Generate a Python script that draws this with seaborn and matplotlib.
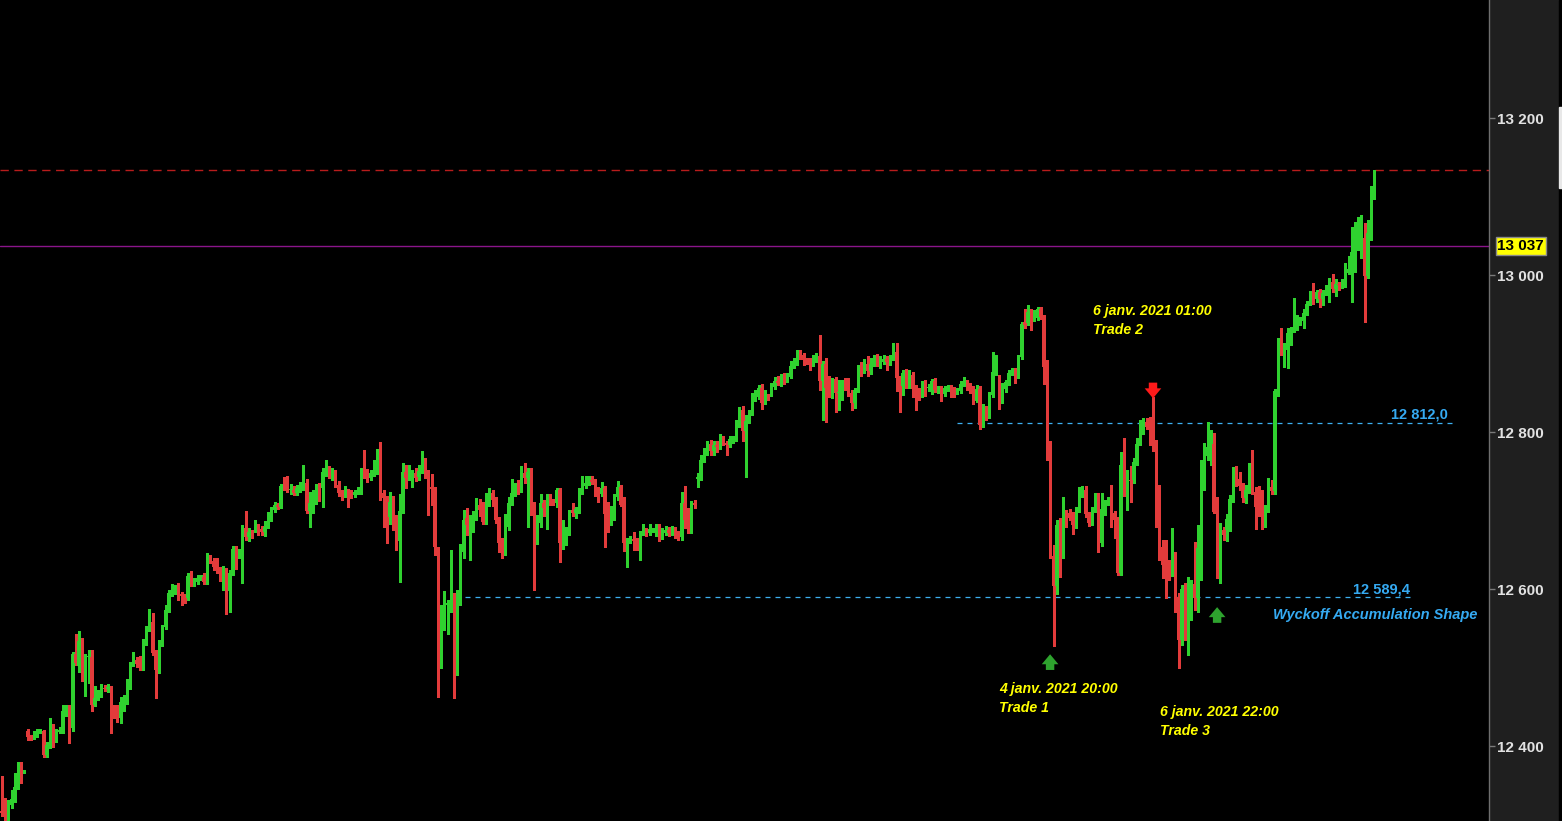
import numpy as np
import pandas as pd
import seaborn as sns
import matplotlib
matplotlib.use("Agg")
import matplotlib.pyplot as plt
from matplotlib.patches import Rectangle

# candle data (price units) left to right
opens = [
    12317, 12315, 12304, 12325, 12331, 12348, 12377, 12367, 12419, 12412,
    12412, 12417, 12419, 12419, 12389, 12400, 12427, 12410, 12418, 12419,
    12443, 12451, 12423, 12517, 12502, 12535, 12495, 12513, 12513, 12452,
    12465, 12468, 12474, 12473, 12474, 12447, 12445, 12436, 12456, 12459,
    12475, 12504, 12510, 12504, 12501, 12532, 12549, 12558, 12520, 12497,
    12531, 12552, 12573, 12595, 12596, 12603, 12594, 12591, 12589, 12618,
    12608, 12609, 12614, 12615, 12609, 12640, 12636, 12628, 12624, 12609,
    12624, 12597, 12620, 12651, 12643, 12650, 12678, 12666, 12673, 12675,
    12679, 12676, 12673, 12679, 12688, 12701, 12707, 12705, 12731, 12731,
    12726, 12726, 12722, 12729, 12730, 12735, 12699, 12710, 12724, 12730,
    12729, 12748, 12753, 12744, 12749, 12732, 12724, 12719, 12725, 12724,
    12720, 12724, 12724, 12752, 12746, 12741, 12748, 12748, 12776, 12722,
    12716, 12692, 12711, 12692, 12661, 12699, 12749, 12741, 12741, 12748,
    12743, 12750, 12762, 12749, 12730, 12727, 12651, 12502, 12567, 12580,
    12580, 12582, 12494, 12582, 12647, 12690, 12683, 12684, 12690, 12707,
    12703, 12685, 12708, 12722, 12714, 12689, 12659, 12646, 12679, 12710,
    12722, 12730, 12726, 12748, 12741, 12749, 12701, 12660, 12684, 12710,
    12703, 12717, 12713, 12710, 12726, 12659, 12666, 12671, 12701, 12697,
    12701, 12724, 12731, 12735, 12739, 12738, 12725, 12721, 12729, 12696,
    12692, 12702, 12717, 12730, 12708, 12659, 12661, 12664, 12662, 12654,
    12671, 12674, 12671, 12674, 12674, 12676, 12666, 12671, 12675, 12671,
    12676, 12670, 12666, 12710, 12688, 12684, 12710, 12740, 12743, 12764,
    12775, 12785, 12776, 12784, 12781, 12793, 12786, 12784, 12789, 12791,
    12809, 12828, 12801, 12814, 12824, 12842, 12845, 12856, 12840, 12846,
    12850, 12857, 12865, 12862, 12869, 12866, 12870, 12884, 12888, 12901,
    12898, 12894, 12893, 12888, 12892, 12897, 12865, 12887, 12867, 12851,
    12867, 12850, 12850, 12860, 12860, 12850, 12837, 12852, 12882, 12878,
    12887, 12878, 12887, 12890, 12888, 12889, 12893, 12889, 12894, 12902,
    12869, 12859, 12875, 12860, 12873, 12855, 12850, 12849, 12860, 12856,
    12857, 12865, 12854, 12855, 12849, 12855, 12857, 12855, 12851, 12852,
    12861, 12864, 12860, 12855, 12840, 12855, 12809, 12831, 12820, 12847,
    12875, 12870, 12838, 12855, 12862, 12875, 12879, 12871, 12896, 12940,
    12939, 12953, 12943, 12945, 12957, 12947, 12883, 12768, 12642, 12604,
    12682, 12671, 12698, 12697, 12694, 12682, 12701, 12721, 12726, 12696,
    12684, 12699, 12716, 12659, 12698, 12710, 12712, 12697, 12689, 12620,
    12768, 12724, 12739, 12739, 12762, 12785, 12800, 12813, 12813, 12805,
    12787, 12729, 12654, 12632, 12623, 12620, 12640, 12590, 12535, 12599,
    12557, 12590, 12606, 12589, 12652, 12752, 12769, 12781, 12785, 12698,
    12636, 12675, 12675, 12689, 12715, 12753, 12740, 12731, 12716, 12726,
    12757, 12724, 12705, 12703, 12689, 12703, 12730, 12725, 12852, 12913,
    12905, 12905, 12926, 12931, 12935, 12938, 12941, 12952, 12963, 12976,
    12969, 12978, 12969, 12977, 12984, 12991, 12982, 12989, 12987, 12990,
    13003, 13008, 13029, 13043, 13046, 13047, 12999, 13054, 13101,
]
highs = [
    12362, 12334, 12331, 12344, 12366, 12380, 12380, 12369, 12422, 12414,
    12419, 12422, 12422, 12420, 12405, 12436, 12428, 12422, 12424, 12452,
    12452, 12452, 12520, 12543, 12546, 12538, 12517, 12522, 12522, 12476,
    12471, 12479, 12478, 12479, 12476, 12452, 12452, 12462, 12465, 12485,
    12507, 12520, 12513, 12515, 12536, 12553, 12575, 12569, 12522, 12535,
    12554, 12580, 12599, 12606, 12605, 12608, 12596, 12594, 12620, 12623,
    12614, 12618, 12618, 12620, 12646, 12643, 12640, 12640, 12628, 12629,
    12627, 12624, 12655, 12655, 12651, 12682, 12699, 12678, 12675, 12688,
    12683, 12680, 12687, 12698, 12704, 12711, 12710, 12734, 12743, 12744,
    12734, 12731, 12732, 12736, 12758, 12740, 12724, 12726, 12734, 12735,
    12754, 12764, 12757, 12754, 12752, 12738, 12726, 12731, 12727, 12726,
    12726, 12730, 12754, 12777, 12753, 12752, 12765, 12778, 12787, 12726,
    12719, 12724, 12719, 12694, 12721, 12761, 12758, 12758, 12752, 12754,
    12758, 12776, 12767, 12752, 12746, 12730, 12653, 12580, 12598, 12586,
    12650, 12595, 12599, 12657, 12701, 12703, 12694, 12699, 12716, 12715,
    12711, 12722, 12729, 12726, 12717, 12692, 12665, 12696, 12717, 12740,
    12735, 12739, 12757, 12761, 12754, 12754, 12711, 12694, 12721, 12713,
    12721, 12721, 12715, 12729, 12729, 12688, 12679, 12701, 12710, 12704,
    12729, 12744, 12744, 12744, 12744, 12740, 12730, 12736, 12731, 12711,
    12706, 12721, 12738, 12732, 12717, 12665, 12668, 12673, 12665, 12674,
    12683, 12678, 12683, 12678, 12683, 12683, 12678, 12680, 12679, 12680,
    12679, 12674, 12724, 12731, 12703, 12712, 12713, 12748, 12771, 12780,
    12789, 12790, 12789, 12789, 12798, 12795, 12789, 12795, 12795, 12815,
    12832, 12833, 12822, 12828, 12850, 12854, 12860, 12861, 12854, 12849,
    12862, 12870, 12871, 12874, 12875, 12875, 12890, 12894, 12904, 12904,
    12901, 12895, 12894, 12898, 12901, 12924, 12890, 12894, 12871, 12869,
    12870, 12866, 12866, 12869, 12869, 12854, 12856, 12886, 12889, 12893,
    12897, 12895, 12898, 12899, 12897, 12898, 12897, 12898, 12913, 12913,
    12871, 12879, 12880, 12879, 12876, 12860, 12856, 12865, 12866, 12861,
    12868, 12869, 12859, 12859, 12859, 12860, 12860, 12857, 12856, 12865,
    12870, 12866, 12862, 12859, 12860, 12859, 12836, 12833, 12851, 12902,
    12898, 12873, 12862, 12866, 12879, 12882, 12882, 12898, 12940, 12957,
    12962, 12957, 12955, 12959, 12959, 12949, 12892, 12789, 12656, 12688,
    12690, 12717, 12701, 12702, 12698, 12704, 12730, 12731, 12731, 12698,
    12704, 12722, 12722, 12722, 12713, 12717, 12732, 12699, 12692, 12775,
    12793, 12752, 12757, 12767, 12793, 12815, 12818, 12818, 12819, 12845,
    12790, 12732, 12662, 12662, 12637, 12678, 12647, 12595, 12605, 12608,
    12615, 12611, 12660, 12682, 12764, 12786, 12813, 12803, 12799, 12717,
    12684, 12679, 12696, 12720, 12755, 12757, 12749, 12735, 12732, 12760,
    12777, 12730, 12731, 12726, 12707, 12741, 12739, 12855, 12920, 12932,
    12913, 12932, 12934, 12971, 12949, 12947, 12957, 12967, 12980, 12990,
    12981, 12982, 12981, 12987, 12996, 13001, 12995, 12991, 12995, 13015,
    13024, 13061, 13067, 13074, 13077, 13066, 13070, 13114, 13134,
]
lows = [
    12311, 12301, 12301, 12321, 12329, 12345, 12353, 12366, 12408, 12408,
    12409, 12412, 12417, 12386, 12386, 12397, 12399, 12405, 12417, 12417,
    12438, 12404, 12419, 12503, 12494, 12483, 12464, 12480, 12445, 12451,
    12459, 12462, 12470, 12469, 12417, 12436, 12431, 12429, 12445, 12453,
    12473, 12502, 12501, 12497, 12497, 12529, 12546, 12516, 12461, 12493,
    12527, 12549, 12571, 12591, 12594, 12586, 12580, 12582, 12586, 12604,
    12604, 12606, 12611, 12606, 12606, 12633, 12624, 12620, 12610, 12599,
    12568, 12571, 12618, 12625, 12640, 12608, 12662, 12661, 12665, 12673,
    12669, 12669, 12668, 12678, 12687, 12698, 12702, 12703, 12726, 12724,
    12721, 12720, 12720, 12724, 12726, 12697, 12679, 12697, 12708, 12712,
    12705, 12744, 12741, 12739, 12730, 12719, 12713, 12717, 12705, 12716,
    12717, 12721, 12721, 12741, 12736, 12739, 12744, 12746, 12713, 12679,
    12659, 12683, 12675, 12650, 12609, 12697, 12729, 12739, 12730, 12738,
    12739, 12748, 12741, 12694, 12707, 12643, 12462, 12499, 12548, 12543,
    12571, 12461, 12491, 12580, 12640, 12669, 12637, 12673, 12688, 12693,
    12683, 12683, 12706, 12706, 12684, 12647, 12640, 12643, 12675, 12707,
    12719, 12721, 12724, 12735, 12679, 12695, 12599, 12657, 12679, 12693,
    12677, 12707, 12707, 12705, 12634, 12651, 12656, 12669, 12693, 12691,
    12697, 12721, 12729, 12732, 12734, 12719, 12711, 12719, 12654, 12673,
    12682, 12688, 12713, 12706, 12648, 12628, 12659, 12650, 12650, 12637,
    12669, 12668, 12669, 12673, 12668, 12661, 12664, 12669, 12668, 12669,
    12665, 12662, 12662, 12678, 12671, 12671, 12703, 12730, 12739, 12762,
    12771, 12771, 12771, 12775, 12778, 12783, 12771, 12781, 12786, 12789,
    12807, 12789, 12743, 12811, 12822, 12840, 12842, 12829, 12836, 12841,
    12846, 12855, 12860, 12859, 12861, 12864, 12869, 12882, 12886, 12893,
    12886, 12887, 12879, 12884, 12889, 12853, 12815, 12813, 12845, 12844,
    12825, 12828, 12841, 12853, 12846, 12828, 12831, 12851, 12871, 12875,
    12871, 12874, 12884, 12884, 12882, 12887, 12879, 12886, 12892, 12852,
    12825, 12847, 12856, 12856, 12845, 12828, 12841, 12845, 12846, 12852,
    12849, 12851, 12850, 12840, 12846, 12852, 12845, 12845, 12849, 12850,
    12859, 12853, 12850, 12836, 12838, 12804, 12807, 12815, 12818, 12845,
    12873, 12829, 12837, 12851, 12860, 12873, 12862, 12869, 12893, 12933,
    12936, 12930, 12941, 12943, 12944, 12861, 12764, 12640, 12527, 12594,
    12615, 12640, 12679, 12688, 12670, 12678, 12698, 12717, 12692, 12680,
    12682, 12698, 12647, 12655, 12694, 12707, 12679, 12665, 12618, 12618,
    12719, 12701, 12711, 12735, 12758, 12783, 12798, 12804, 12784, 12776,
    12679, 12637, 12614, 12589, 12611, 12617, 12571, 12499, 12529, 12535,
    12516, 12561, 12573, 12571, 12611, 12726, 12764, 12758, 12697, 12614,
    12608, 12662, 12661, 12674, 12711, 12731, 12726, 12711, 12710, 12722,
    12721, 12677, 12693, 12677, 12679, 12698, 12721, 12721, 12846, 12898,
    12883, 12882, 12911, 12927, 12930, 12936, 12933, 12949, 12962, 12963,
    12966, 12959, 12962, 12975, 12966, 12978, 12973, 12981, 12984, 12985,
    13001, 12966, 13004, 13032, 13022, 12940, 12996, 13045, 13097,
]
closes = [
    12315, 12304, 12325, 12333, 12348, 12376, 12366, 12368, 12412, 12410,
    12417, 12419, 12420, 12389, 12401, 12427, 12410, 12418, 12420, 12445,
    12450, 12423, 12517, 12506, 12534, 12495, 12513, 12515, 12452, 12461,
    12468, 12474, 12473, 12475, 12447, 12445, 12436, 12456, 12459, 12476,
    12504, 12510, 12504, 12501, 12534, 12550, 12557, 12518, 12497, 12531,
    12552, 12573, 12595, 12596, 12601, 12592, 12591, 12589, 12617, 12608,
    12609, 12614, 12615, 12609, 12640, 12636, 12628, 12624, 12614, 12624,
    12597, 12620, 12651, 12642, 12645, 12679, 12666, 12673, 12669, 12679,
    12675, 12673, 12679, 12688, 12701, 12707, 12705, 12731, 12729, 12726,
    12727, 12722, 12729, 12730, 12735, 12699, 12710, 12724, 12730, 12727,
    12749, 12752, 12747, 12749, 12732, 12722, 12719, 12725, 12722, 12720,
    12724, 12725, 12752, 12746, 12743, 12748, 12749, 12776, 12722, 12716,
    12692, 12711, 12692, 12661, 12699, 12749, 12741, 12743, 12748, 12741,
    12750, 12762, 12749, 12730, 12727, 12653, 12502, 12565, 12580, 12582,
    12584, 12494, 12582, 12647, 12688, 12682, 12684, 12690, 12707, 12701,
    12685, 12708, 12722, 12713, 12688, 12659, 12646, 12679, 12710, 12722,
    12730, 12726, 12748, 12741, 12749, 12699, 12660, 12684, 12710, 12703,
    12717, 12711, 12710, 12726, 12659, 12666, 12673, 12698, 12697, 12702,
    12724, 12732, 12735, 12740, 12736, 12724, 12721, 12729, 12696, 12692,
    12702, 12717, 12730, 12707, 12659, 12661, 12664, 12661, 12655, 12671,
    12674, 12673, 12676, 12676, 12678, 12666, 12671, 12675, 12671, 12676,
    12670, 12666, 12710, 12688, 12684, 12710, 12707, 12743, 12764, 12775,
    12785, 12776, 12783, 12781, 12793, 12786, 12784, 12791, 12793, 12809,
    12828, 12801, 12814, 12824, 12842, 12845, 12856, 12837, 12849, 12844,
    12859, 12865, 12862, 12870, 12866, 12871, 12884, 12889, 12901, 12897,
    12892, 12890, 12888, 12894, 12897, 12865, 12887, 12856, 12851, 12866,
    12850, 12851, 12862, 12857, 12850, 12837, 12854, 12882, 12878, 12887,
    12878, 12887, 12890, 12888, 12892, 12893, 12889, 12894, 12902, 12869,
    12859, 12875, 12860, 12874, 12855, 12850, 12849, 12860, 12855, 12857,
    12865, 12854, 12855, 12849, 12856, 12856, 12852, 12851, 12852, 12861,
    12865, 12860, 12854, 12840, 12855, 12809, 12831, 12820, 12847, 12877,
    12889, 12838, 12856, 12864, 12875, 12879, 12871, 12896, 12938, 12936,
    12953, 12943, 12945, 12957, 12947, 12883, 12768, 12642, 12604, 12682,
    12671, 12698, 12690, 12690, 12682, 12701, 12721, 12726, 12696, 12684,
    12699, 12716, 12656, 12702, 12710, 12712, 12697, 12688, 12620, 12758,
    12724, 12739, 12738, 12762, 12785, 12800, 12813, 12806, 12805, 12787,
    12729, 12654, 12631, 12620, 12620, 12640, 12590, 12535, 12600, 12557,
    12590, 12606, 12589, 12652, 12752, 12769, 12781, 12785, 12698, 12636,
    12675, 12669, 12689, 12715, 12753, 12740, 12731, 12716, 12726, 12757,
    12726, 12705, 12703, 12689, 12703, 12730, 12725, 12852, 12913, 12905,
    12907, 12926, 12931, 12935, 12938, 12941, 12952, 12963, 12976, 12969,
    12978, 12969, 12977, 12984, 12991, 12982, 12989, 12987, 12990, 13003,
    13008, 13029, 13043, 13046, 13047, 12999, 13054, 13101, 13133,
]

price_ticks = [12400, 12600, 12800, 13000, 13200]
tick_labels = ["12 400", "12 600", "12 800", "13 000", "13 200"]
last_price = 13037
last_label = "13 037"
top_level = 13134
resistance = 12812.0
support = 12589.4

n = min(len(opens), len(highs), len(lows), len(closes))
df = pd.DataFrame({
    "o": opens[:n], "h": highs[:n], "l": lows[:n], "c": closes[:n],
})
df["t"] = np.arange(n)
df["up"] = df["c"] >= df["o"]
df["bottom"] = df[["o", "c"]].min(axis=1)
df["size"] = (df["c"] - df["o"]).abs().clip(lower=1.3)

GREEN = "#2fd12f"
RED = "#e23b3b"
colors = np.where(df["up"], GREEN, RED)

sns.set_theme(style="dark", rc={
    "axes.facecolor": "black",
    "figure.facecolor": "#1f1f1f",
})
plt.rcParams["font.family"] = ["Liberation Sans", "DejaVu Sans"]

fig = plt.figure(figsize=(15.62, 8.21), dpi=100)
ax = fig.add_axes([0, 0, 1489 / 1562, 1])
ax.set_facecolor("black")

# wicks then bodies
ax.vlines(df["t"], df["l"], df["h"], colors=colors, lw=1.0, antialiased=False, zorder=2)
ax.bar(df["t"], df["size"], bottom=df["bottom"], width=0.93, color=colors,
       linewidth=0, antialiased=False, zorder=3)

# levels
ax.axhline(top_level, color="#b81c1c", lw=1, ls=(0, (6, 4)), zorder=1)
ax.axhline(last_price, color="#8a158a", lw=1, zorder=1)
ax.hlines(resistance, 297.9, 452.6, color="#3cb0f0", lw=0.9, ls=(0, (4, 4)), zorder=1)
ax.hlines(support, 141.3, 440.7, color="#3cb0f0", lw=0.9, ls=(0, (4, 4)), zorder=1)

blue = "#35aaf2"
ax.text(451, 12822, "12 812,0", color=blue, fontsize=10.5, fontweight="bold",
        ha="right", va="center")
ax.text(439.2, 12600, "12 589,4", color=blue, fontsize=10.5, fontweight="bold",
        ha="right", va="center")
ax.text(460.1, 12567, "Wyckoff Accumulation Shape", color=blue, fontsize=10.5,
        fontweight="bold", style="italic", ha="right", va="center")

yellow = "#ffff00"
notes = [
    (340.3, 12954, "6 janv. 2021 01:00"), (340.3, 12930, "Trade 2"),
    (311.0, 12473, "4 janv. 2021 20:00"), (311.0, 12448, "Trade 1"),
    (361.2, 12443, "6 janv. 2021 22:00"), (361.2, 12419, "Trade 3"),
]
for x, y, s in notes:
    ax.text(x, y, s, color=yellow, fontsize=10.2, fontweight="bold", style="italic",
            ha="left", va="center")

# trade arrows
arrow_style = "simple,head_length=0.45,head_width=0.75,tail_width=0.38"
arrow_kw = dict(arrowstyle=arrow_style, lw=0, mutation_scale=16, shrinkA=0, shrinkB=0)
ax.annotate("", xy=(359.0, 12843), xytext=(359.0, 12863),
            arrowprops=dict(color="#ff1a1a", **arrow_kw))
ax.annotate("", xy=(326.9, 12517), xytext=(326.9, 12497),
            arrowprops=dict(color="#2ea32e", **arrow_kw))
ax.annotate("", xy=(379.0, 12577), xytext=(379.0, 12557),
            arrowprops=dict(color="#2ea32e", **arrow_kw))

ax.set_xlim(-0.62, 463.8)
ax.set_ylim(12304.6, 13350.4)
ax.set_xticks([])
ax.yaxis.tick_right()
ax.set_yticks(price_ticks)
ax.set_yticklabels(tick_labels)
ax.tick_params(axis="y", colors="#7a7a7a", length=4, width=1, pad=2,
               labelcolor="#e2e2e2", labelsize=11)
for lab in ax.get_yticklabels():
    lab.set_fontweight("bold")
for side in ["top", "left", "bottom"]:
    ax.spines[side].set_visible(False)
ax.spines["right"].set_color("#6e6e6e")
ax.spines["right"].set_linewidth(1)
ax.grid(False)

# current price tag
ax.annotate(last_label, xy=(1.0, last_price), xycoords=("axes fraction", "data"),
            xytext=(6, 0), textcoords="offset points", ha="left", va="center",
            fontsize=11, fontweight="bold", color="black",
            bbox=dict(boxstyle="square,pad=0.12", fc="#ffff00", ec="#8a8a8a", lw=1))

# scrollbar strip at the right edge
fig.patches.append(Rectangle((1559 / 1562, 0), 3 / 1562, 1, transform=fig.transFigure,
                             color="black", zorder=0))
fig.patches.append(Rectangle((1559 / 1562, 1 - 188 / 821), 3 / 1562, 81 / 821,
                             transform=fig.transFigure, color="#e8e8e8", zorder=1))

fig.savefig("out.png", dpi=100, facecolor=fig.get_facecolor())
